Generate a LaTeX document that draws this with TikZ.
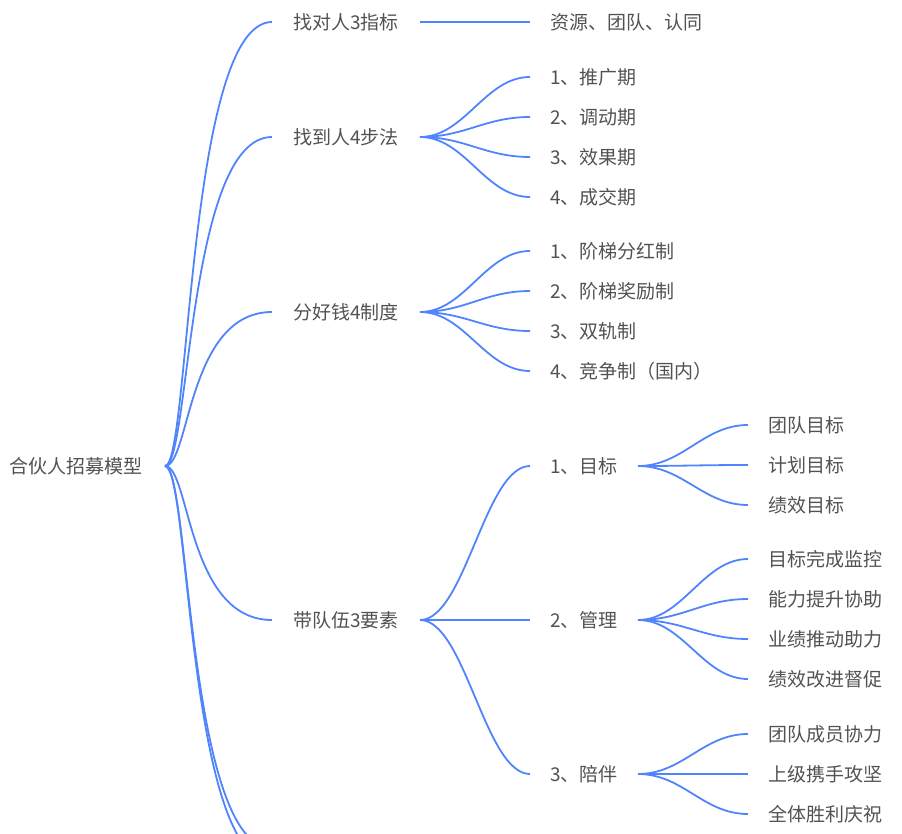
\documentclass[tikz,border=0pt]{standalone}
\usepackage{fontspec}
\setmainfont{Noto Sans CJK SC}
\usetikzlibrary{calc}
\begin{document}
\begin{tikzpicture}[x=1pt,y=-1pt,
  lbl/.style={anchor=west,inner sep=0pt,text=black!68,font=\fontsize{19}{22}\selectfont},
  br/.style={draw={rgb,255:red,80;green,132;blue,252},line width=1.8pt},
  ]
\useasboundingbox (0,0) rectangle (902,834);
\clip (0,0) rectangle (902,834);
\node[lbl] (root) at (9,466) {合伙人招募模型};
\coordinate (r) at (165,466);
% level 1
\node[lbl] (a) at (293,22) {找对人3指标};
\node[lbl] (b) at (293,137) {找到人4步法};
\node[lbl] (c) at (293,312) {分好钱4制度};
\node[lbl] (d) at (293,620) {带队伍3要素};
\coordinate (aL) at (272,22); \coordinate (aR) at (420,22);
\coordinate (bL) at (272,137); \coordinate (bR) at (420,137);
\coordinate (cL) at (272,312); \coordinate (cR) at (420,312);
\coordinate (dL) at (272,620); \coordinate (dR) at (420,620);
\coordinate (eL) at (272,848); \coordinate (fL) at (272,862);
\foreach \t in {aL,bL,cL,dL,eL,fL}{\draw[br] (r) .. controls ($(r)+(25,0)$) and ($(\t)+(-85,0)$) .. (\t);}
% level 2
\node[lbl] (a1) at (550,22) {资源、团队、认同};
\draw[br] (aR) -- (530,22);
\node[lbl] (b1) at (550,77) {1、推广期};
\node[lbl] (b2) at (550,117) {2、调动期};
\node[lbl] (b3) at (550,157) {3、效果期};
\node[lbl] (b4) at (550,197) {4、成交期};
\node[lbl] (c1) at (550,251) {1、阶梯分红制};
\node[lbl] (c2) at (550,291) {2、阶梯奖励制};
\node[lbl] (c3) at (550,331) {3、双轨制};
\node[lbl] (c4) at (550,371) {4、竞争制（国内）};
\node[lbl] (d1) at (550,466) {1、目标};
\node[lbl] (d2) at (550,620) {2、管理};
\node[lbl] (d3) at (550,774) {3、陪伴};
\foreach \p/\ys in {bR/{77,117,157,197},cR/{251,291,331,371},dR/{466,620,774}}{
  \foreach \y in \ys {\draw[br] (\p) .. controls ($(\p)+(45,0)$) and (485,\y) .. (530,\y);}}
% level 3
\coordinate (d1R) at (638,466); \coordinate (d2R) at (638,620); \coordinate (d3R) at (638,774);
\node[lbl] (e1) at (768,425) {团队目标};
\node[lbl] (e2) at (768,465) {计划目标};
\node[lbl] (e3) at (768,505) {绩效目标};
\node[lbl] (f1) at (768,559) {目标完成监控};
\node[lbl] (f2) at (768,599) {能力提升协助};
\node[lbl] (f3) at (768,639) {业绩推动助力};
\node[lbl] (f4) at (768,679) {绩效改进督促};
\node[lbl] (g1) at (768,734) {团队成员协力};
\node[lbl] (g2) at (768,774) {上级携手攻坚};
\node[lbl] (g3) at (768,814) {全体胜利庆祝};
\foreach \p/\ys in {d1R/{425,465,505},d2R/{559,599,639,679},d3R/{734,774,814}}{
  \foreach \y in \ys {\draw[br] (\p) .. controls ($(\p)+(45,0)$) and (703,\y) .. (748,\y);}}
\end{tikzpicture}
\end{document}
